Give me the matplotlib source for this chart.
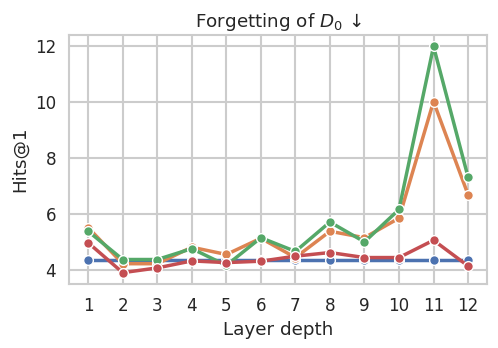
import matplotlib
matplotlib.use("Agg")
import matplotlib.pyplot as plt
import seaborn as sns

layers = list(range(1, 13))
blue   = [4.36, 4.36, 4.36, 4.36, 4.36, 4.36, 4.36, 4.36, 4.36, 4.36, 4.36, 4.36]
orange = [5.50, 4.21, 4.21, 4.80, 4.54, 5.12, 4.43, 5.37, 5.14, 5.84, 10.01, 6.68]
green  = [5.37, 4.36, 4.36, 4.75, 4.15, 5.14, 4.65, 5.70, 4.99, 6.15, 11.98, 7.31]
red    = [4.96, 3.89, 4.06, 4.31, 4.25, 4.30, 4.48, 4.61, 4.43, 4.43, 5.05, 4.13]

sns.set_theme(style="whitegrid", font_scale=1.1)
pal = sns.color_palette("deep")

fig, ax = plt.subplots(figsize=(4.98, 3.48), dpi=100)
for ys, c in [(blue, pal[0]), (orange, pal[1]), (green, pal[2]), (red, pal[3])]:
    ax.plot(layers, ys, color=c, linewidth=2.5, marker="o", markersize=7,
            markeredgecolor="white", markeredgewidth=1)

ax.set_xticks(layers)
ax.set_yticks([4, 6, 8, 10, 12])
ax.set_xlabel("Layer depth")
ax.set_ylabel("Hits@1")
ax.set_title(r"Forgetting of $D_0$ ↓")
for s in ax.spines.values():
    s.set_linewidth(1.5)
ax.grid(linewidth=1.5)

fig.subplots_adjust(left=0.139, right=0.978, top=0.899, bottom=0.184)
plt.savefig("out.png", dpi=100)
